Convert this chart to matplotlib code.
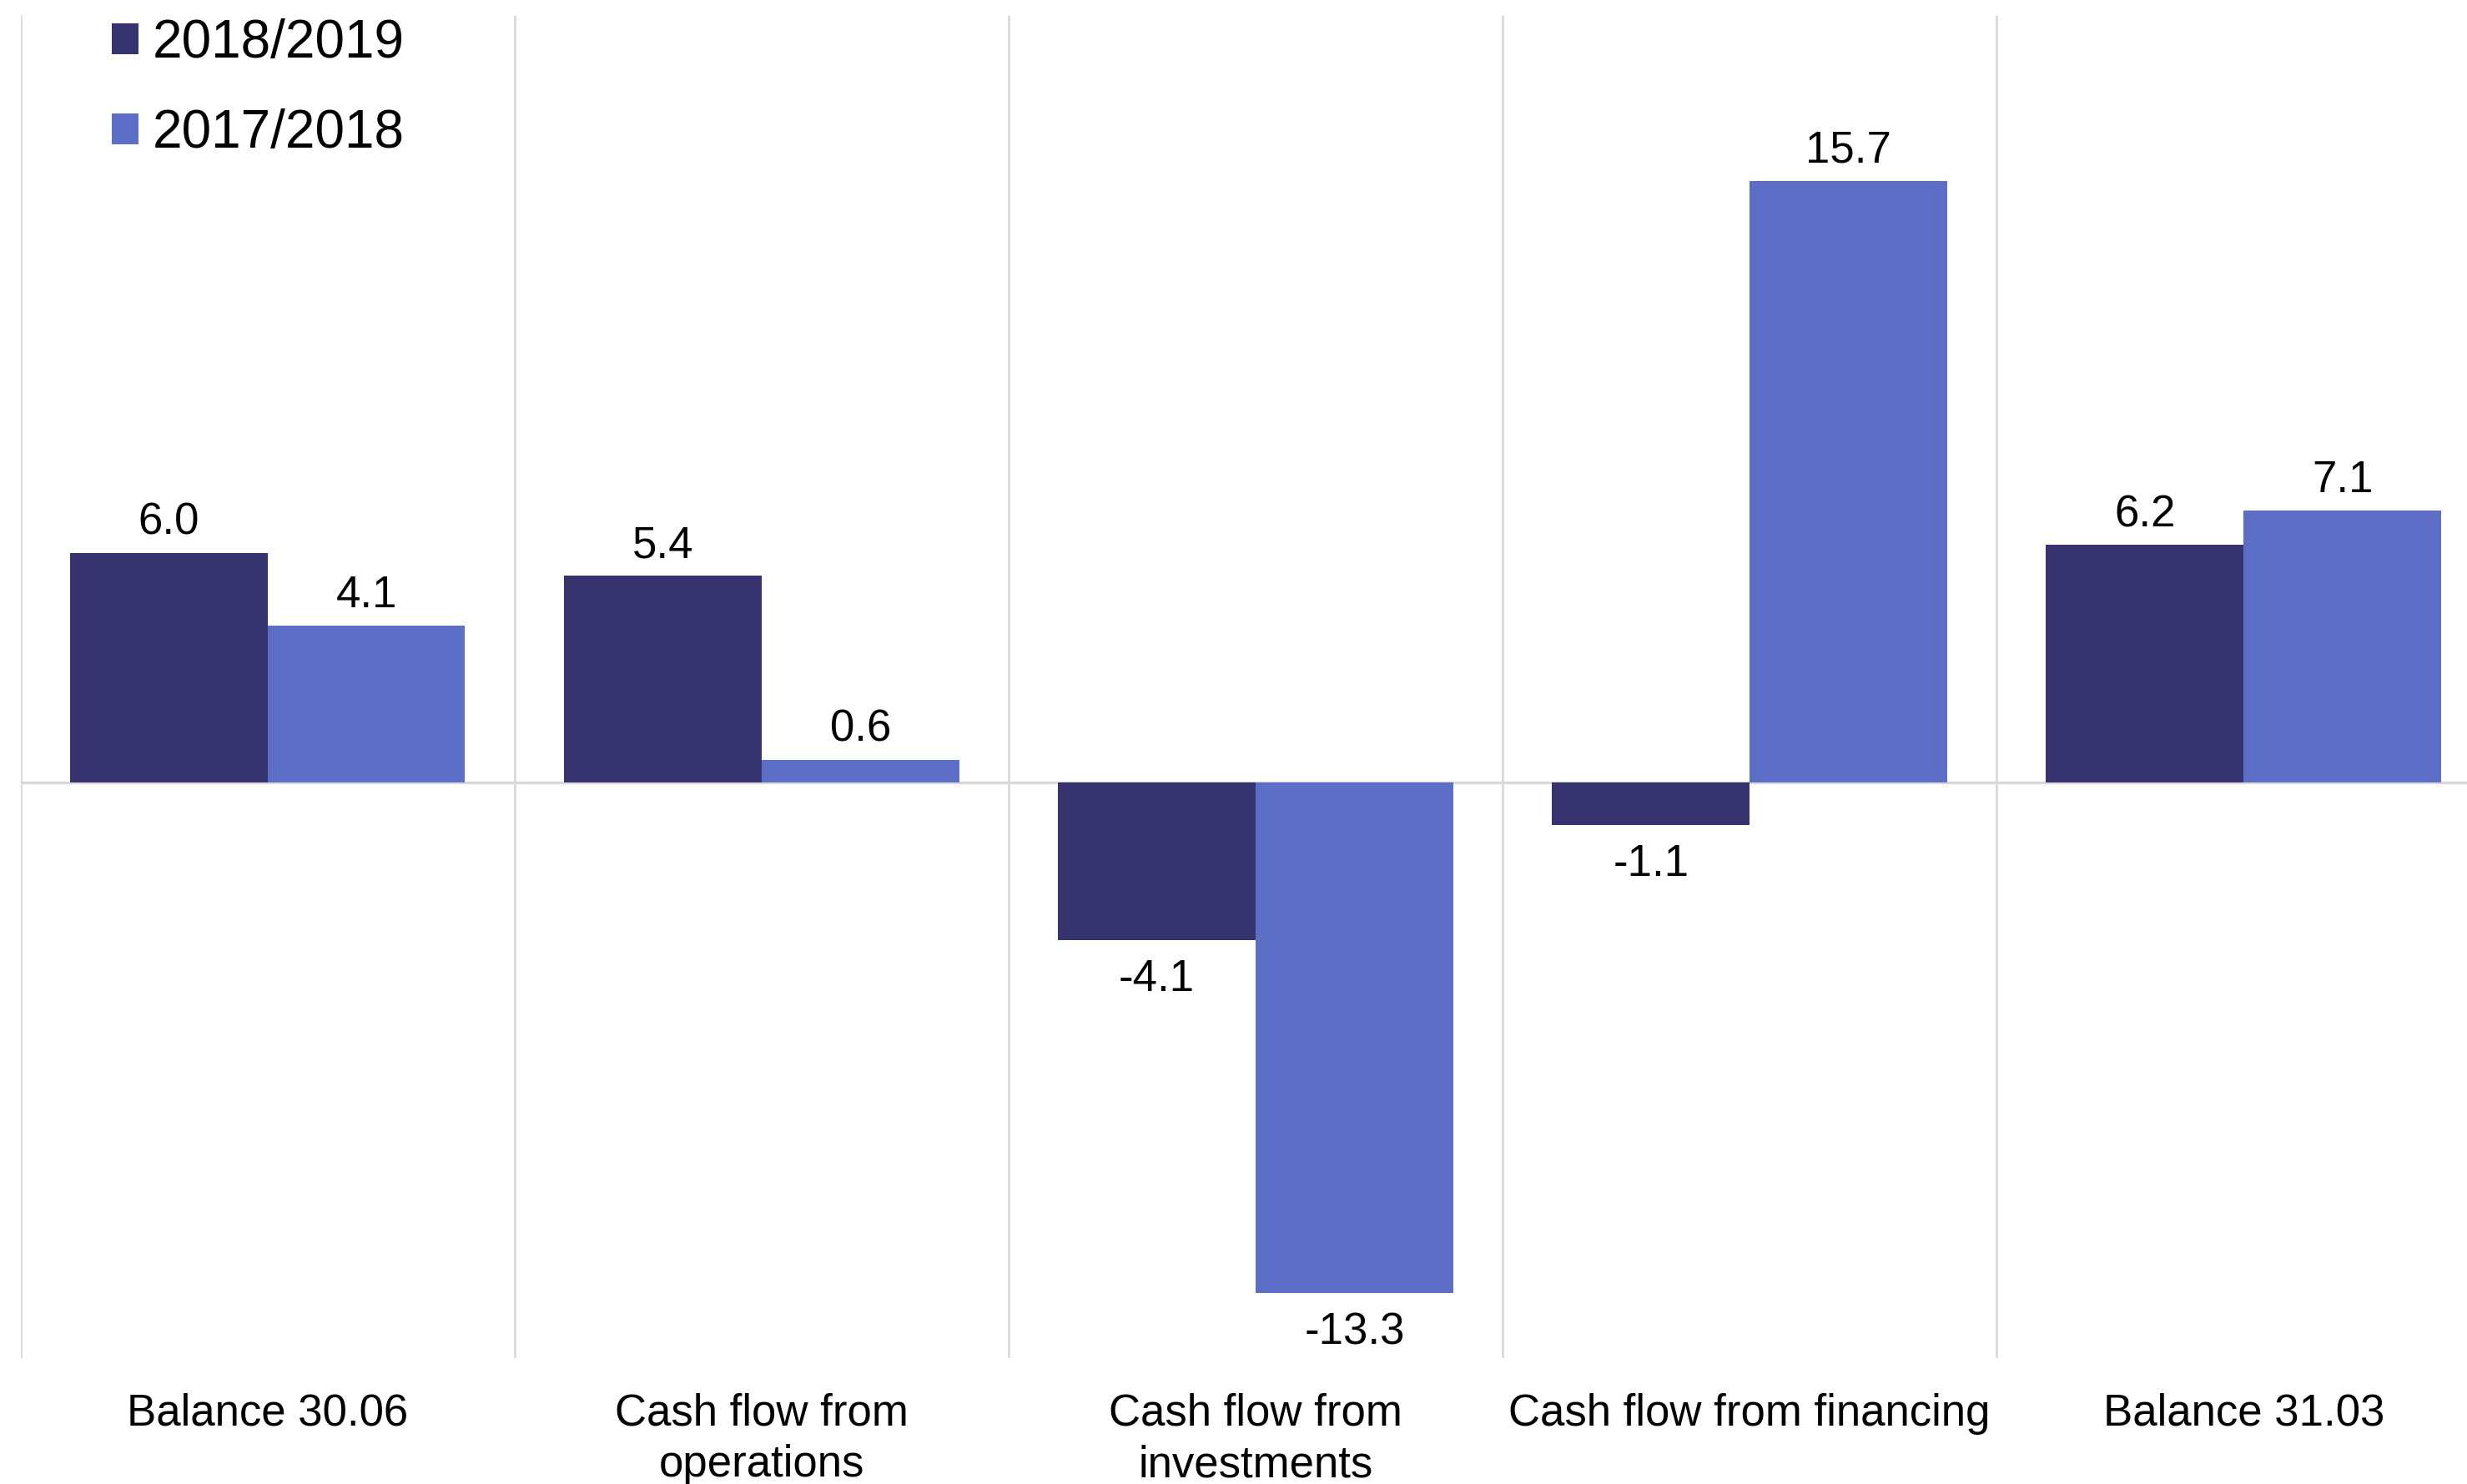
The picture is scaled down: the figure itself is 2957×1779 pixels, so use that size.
"""Cash flow overview: two fiscal years side by side."""

import matplotlib
import matplotlib.pyplot as plt
import numpy as np

matplotlib.use("Agg")

plt.rcParams["font.family"] = ["Liberation Sans", "DejaVu Sans"]

CATEGORIES = [
    "Balance 30.06",
    "Cash flow from\noperations",
    "Cash flow from\ninvestments",
    "Cash flow from financing",
    "Balance 31.03",
]
SERIES = ["2018/2019", "2017/2018"]
VALUES_1819 = [6.0, 5.4, -4.1, -1.1, 6.2]
VALUES_1718 = [4.1, 0.6, -13.3, 15.7, 7.1]

COLORS = ["#36336e", "#5d6ec7"]
GRID = "#d9d9d9"

fig = plt.figure(figsize=(14.785, 8.895), dpi=200)
# last category runs slightly past the right edge of the canvas
ax = fig.add_axes([0.0083, 0.0849, 1.0013, 0.9044])

x = np.arange(len(CATEGORIES))
width = 0.4

ax.axhline(0, color=GRID, lw=1.2, zorder=1)
for b in np.arange(-0.5, len(CATEGORIES), 1.0):
    ax.axvline(b, color=GRID, lw=1.0, zorder=0)

for i, (name, vals) in enumerate(zip(SERIES, [VALUES_1819, VALUES_1718])):
    pos = x + (i - 0.5) * width
    ax.bar(pos, vals, width=width, color=COLORS[i], label=name, zorder=2)
    for px, v in zip(pos, vals):
        if v >= 0:
            ax.annotate(f"{v:.1f}", (px, v), xytext=(0, 4), textcoords="offset points",
                        ha="center", va="bottom", fontsize=19)
        else:
            ax.annotate(f"{v:.1f}", (px, v), xytext=(0, -8), textcoords="offset points",
                        ha="center", va="top", fontsize=19)

ax.set_xlim(-0.5, len(CATEGORIES) - 0.5)
ax.set_ylim(-15, 20)
ax.set_xticks(x)
ax.set_xticklabels(CATEGORIES, fontsize=19, linespacing=1.3)
ax.tick_params(axis="x", length=0, pad=15)
ax.set_yticks([])
for s in ax.spines.values():
    s.set_visible(False)

ax.legend(loc="upper left", bbox_to_anchor=(0.0285, 1.014), frameon=False, fontsize=23,
          handlelength=0.5, handleheight=0.5, handletextpad=0.25, labelspacing=0.75,
          borderaxespad=0)

fig.savefig("out.png", dpi=200)
plt.close(fig)
